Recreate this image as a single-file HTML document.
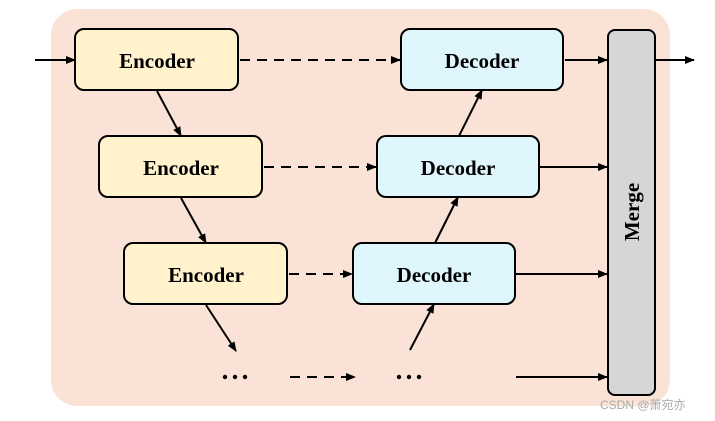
<!DOCTYPE html>
<html><head><style>body{margin:0;background:#fff}svg{display:block}</style></head><body>
<svg width="715" height="421" viewBox="0 0 715 421" xmlns="http://www.w3.org/2000/svg">
<defs><marker id="a" markerWidth="10" markerHeight="8" refX="9" refY="4" orient="auto" markerUnits="userSpaceOnUse"><path d="M0,0 L10,4 L0,8 z" fill="#000"/></marker></defs>
<rect x="51" y="9" width="619" height="397" rx="26" fill="#fae3d6"/>
<g stroke="#000" stroke-width="2" fill="#fff2cc">
<rect x="75" y="29" width="163" height="61" rx="9"/>
<rect x="99" y="136" width="163" height="61" rx="9"/>
<rect x="124" y="243" width="163" height="61" rx="9"/>
</g>
<g stroke="#000" stroke-width="2" fill="#dff7fc">
<rect x="401" y="29" width="162" height="61" rx="9"/>
<rect x="377" y="136" width="162" height="61" rx="9"/>
<rect x="353" y="243" width="162" height="61" rx="9"/>
</g>
<rect x="608" y="30" width="47" height="365" rx="7" fill="#d6d6d6" stroke="#000" stroke-width="2"/>
<g stroke="#000" stroke-width="2" marker-end="url(#a)" fill="none">
<line x1="35" y1="60" x2="75" y2="60"/>
<line x1="655" y1="60" x2="694" y2="60"/>
<line x1="240" y1="60" x2="400" y2="60" stroke-dasharray="10,7"/>
<line x1="264" y1="167" x2="376" y2="167" stroke-dasharray="10,7"/>
<line x1="289" y1="274" x2="352" y2="274" stroke-dasharray="10,7"/>
<line x1="290" y1="377" x2="355" y2="377" stroke-dasharray="10,7"/>
<line x1="157" y1="91" x2="181" y2="136"/>
<line x1="181" y1="198" x2="206" y2="243"/>
<line x1="206" y1="305" x2="236" y2="351"/>
<line x1="459" y1="136" x2="482" y2="90"/>
<line x1="435" y1="243" x2="458" y2="197"/>
<line x1="410" y1="350" x2="434" y2="304"/>
<line x1="565" y1="60" x2="607" y2="60"/>
<line x1="540" y1="167" x2="607" y2="167"/>
<line x1="516" y1="274" x2="607" y2="274"/>
<line x1="516" y1="377" x2="607" y2="377"/>
</g>
<g font-family="Liberation Serif, serif" font-weight="bold" font-size="21" text-anchor="middle">
<text x="157" y="68">Encoder</text>
<text x="181" y="175">Encoder</text>
<text x="206" y="282">Encoder</text>
<text x="482" y="68">Decoder</text>
<text x="458" y="175">Decoder</text>
<text x="434" y="282">Decoder</text>
<text transform="translate(639,212) rotate(-90)">Merge</text>
</g>
<g fill="#000"><circle cx="225" cy="377" r="2.2"/><circle cx="235" cy="377" r="2.2"/><circle cx="245" cy="377" r="2.2"/>
<circle cx="399" cy="377" r="2.2"/><circle cx="409" cy="377" r="2.2"/><circle cx="419" cy="377" r="2.2"/></g>
<text x="600" y="409" font-family="Liberation Sans, Noto Sans CJK SC, sans-serif" font-size="12" fill="#aaa">CSDN @萧宛亦</text>
</svg>
</body></html>
